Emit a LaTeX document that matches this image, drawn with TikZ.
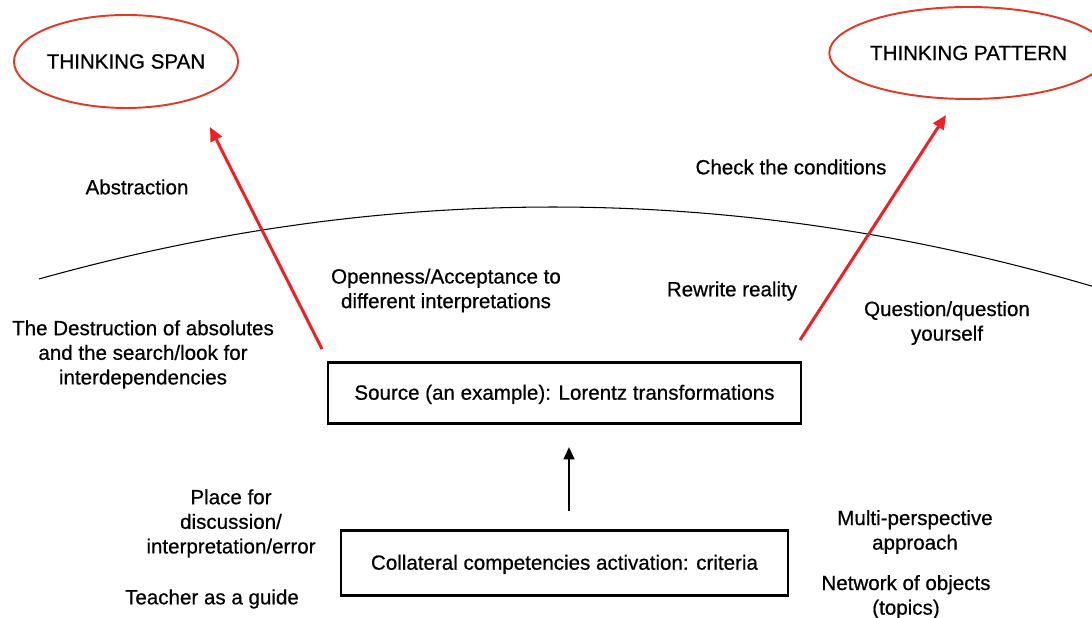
\documentclass[tikz,border=0pt]{standalone}
\definecolor{ovalred}{RGB}{222, 58, 42}
\definecolor{arrowred}{RGB}{238, 32, 36}
\usepackage{fontspec}
\setmainfont{Liberation Sans}[BoldFont=Liberation Sans, BoldFeatures={FakeBold=0.6}]
\usepackage{tikz}
\usetikzlibrary{shapes, arrows.meta, positioning, calc}

\begin{document}
\begin{tikzpicture}[
    label/.style={font=\fontsize{11.7}{14}\selectfont\bfseries, align=center, inner sep=1pt},
    oval/.style={ellipse, draw=ovalred, line width=1.1pt, inner sep=0pt, font=\fontsize{11.7}{14}\selectfont\bfseries},
    stagebox/.style={draw=black, line width=1.7pt, inner sep=0pt, font=\fontsize{11.7}{14}\selectfont\bfseries},
    redarrow/.style={draw=arrowred, line width=1.7pt, -{Triangle[length=8pt, width=7pt]}},
    blackarrow/.style={draw=black, line width=1.4pt, -{Triangle[length=7pt, width=6pt]}}
  ]
  \useasboundingbox (0, 0) rectangle (21.84, 12.36);

  % Horizon
  \draw[line width=0.6pt] (0.78, 6.78) .. controls (7.80, 8.746) and (14.82, 8.698) .. (21.84, 6.636);

  % Goals
  \node[oval, minimum width=4.16cm, minimum height=1.86cm] (span) at (2.52, 11.13) {THINKING SPAN};
  \node[oval, minimum width=4.94cm, minimum height=1.84cm] (pattern) at (19.37, 11.30) {THINKING PATTERN};

  % Boxes
  \node[stagebox, minimum width=9.46cm, minimum height=1.22cm, text depth=0.05cm] (source) at (11.29, 4.49) {Source (an example): Lorentz transformations};
  \node[stagebox, minimum width=8.94cm, minimum height=1.30cm, text depth=0.05cm] (collat) at (11.29, 1.09) {Collateral competencies activation: criteria};

  % Upper labels
  \node[label] (abstr) at (2.74, 8.62) {Abstraction};
  \node[label] (check) at (15.82, 9.02) {Check the conditions};
  \node[label] (open) at (8.92, 6.55) {Openness/Acceptance to\\different interpretations};
  \node[label] (rewrite) at (14.64, 6.54) {Rewrite reality};
  \node[label] (question) at (18.94, 5.90) {Question/question\\yourself};
  \node[label] (destr) at (2.86, 5.27) {The Destruction of absolutes\\and the search/look for\\interdependencies};

  % Lower labels
  \node[label] (place) at (4.62, 1.89) {Place for\\discussion/\\interpretation/error};
  \node[label] (teacher) at (4.24, 0.38) {Teacher as a guide};
  \node[label] (multi) at (18.30, 1.72) {Multi-perspective\\approach};
  \node[label] (network) at (18.12, 0.42) {Network of objects\\(topics)};

  % Arrows
  \coordinate (spanfrom) at (6.44, 5.38);
  \coordinate (spanto) at (4.20, 9.82);
  \coordinate (patternfrom) at (16.00, 5.56);
  \coordinate (patternto) at (18.92, 10.06);
  \coordinate (upfrom) at (11.38, 2.14);
  \coordinate (upto) at (11.38, 3.42);
  \draw[redarrow] (spanfrom) -- (spanto);
  \draw[redarrow] (patternfrom) -- (patternto);
  \draw[blackarrow] (upfrom) -- (upto);
\end{tikzpicture}
\end{document}
